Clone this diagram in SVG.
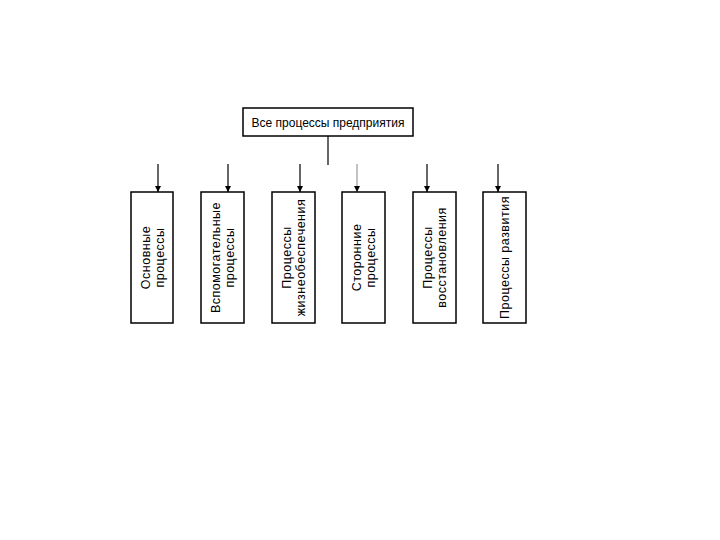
<svg xmlns="http://www.w3.org/2000/svg" width="720" height="540" viewBox="0 0 720 540">
<style>
.box{fill:#fff;stroke:#000;stroke-width:1.5}
.t{font-family:"Liberation Sans",Arial,sans-serif;font-size:12.5px;fill:#000;text-anchor:middle}
.r{letter-spacing:0.5px}
.h{font-size:12px}
.c{stroke:#000;stroke-width:1.2;fill:none}
.g{stroke:#999}
</style>
<defs>
<marker id="ah" viewBox="0 0 10 10" refX="10" refY="5" markerWidth="6" markerHeight="8" markerUnits="userSpaceOnUse" orient="auto">
<path d="M0,0 L10,5 L0,10 z" fill="#000"/>
</marker>
</defs>
<rect width="720" height="540" fill="#fff"/>
<g id="root">
<rect class="box" x="243" y="108" width="170" height="28"/>
<text class="t h" x="328" y="126.5">Все процессы предприятия</text>
</g>
<g id="connectors">
<line class="c" x1="328" y1="136" x2="328" y2="165"/>
<line class="c" x1="158" y1="164" x2="158" y2="192" marker-end="url(#ah)"/>
<line class="c" x1="228" y1="164" x2="228" y2="192" marker-end="url(#ah)"/>
<line class="c" x1="300" y1="164" x2="300" y2="192" marker-end="url(#ah)"/>
<line class="c g" x1="357" y1="164" x2="357" y2="192" marker-end="url(#ah)"/>
<line class="c" x1="427" y1="164" x2="427" y2="192" marker-end="url(#ah)"/>
<line class="c" x1="498" y1="164" x2="498" y2="192" marker-end="url(#ah)"/>
</g>
<g id="n1">
<rect class="box" x="131" y="192" width="42" height="131"/>
<text class="t r" transform="translate(152,257.5) rotate(-90)"><tspan x="0" y="-2.5">Основные</tspan><tspan x="0" y="11.5">процессы</tspan></text>
</g>
<g id="n2">
<rect class="box" x="201" y="192" width="43" height="131"/>
<text class="t r" transform="translate(222.5,257.5) rotate(-90)"><tspan x="0" y="-2.5">Вспомогательные</tspan><tspan x="0" y="11.5">процессы</tspan></text>
</g>
<g id="n3">
<rect class="box" x="272" y="192" width="43" height="131"/>
<text class="t r" transform="translate(293.5,257.5) rotate(-90)"><tspan x="0" y="-2.5">Процессы</tspan><tspan x="0" y="11.5">жизнеобеспечения</tspan></text>
</g>
<g id="n4">
<rect class="box" x="342" y="192" width="43" height="131"/>
<text class="t r" transform="translate(363.5,257.5) rotate(-90)"><tspan x="0" y="-2.5">Сторонние</tspan><tspan x="0" y="11.5">процессы</tspan></text>
</g>
<g id="n5">
<rect class="box" x="413" y="192" width="43" height="131"/>
<text class="t r" transform="translate(434.5,257.5) rotate(-90)"><tspan x="0" y="-2.5">Процессы</tspan><tspan x="0" y="11.5">восстановления</tspan></text>
</g>
<g id="n6">
<rect class="box" x="483" y="192" width="43" height="131"/>
<text class="t r" transform="translate(504.5,257.5) rotate(-90)"><tspan x="0" y="4.5">Процессы развития</tspan></text>
</g>
</svg>
